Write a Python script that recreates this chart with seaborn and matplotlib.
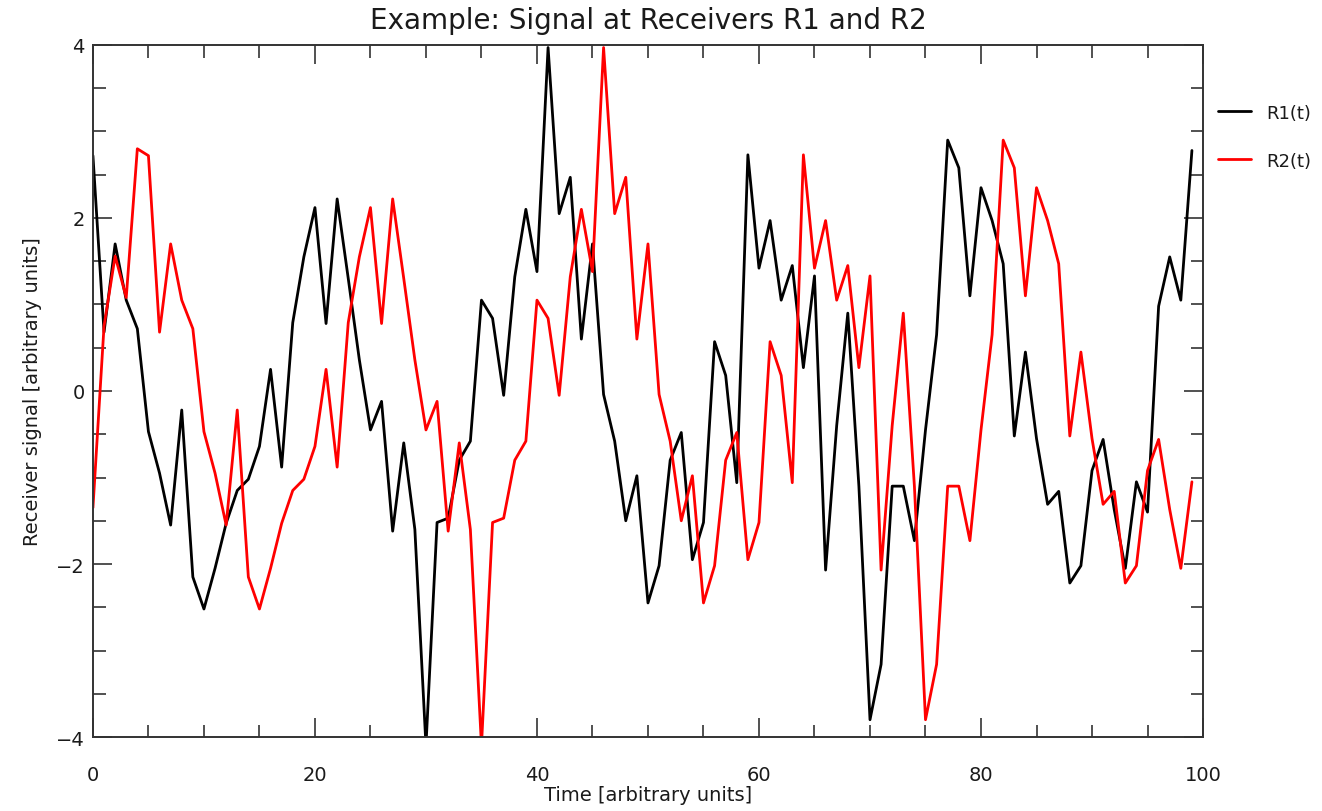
import numpy as np
import pandas as pd
import matplotlib
matplotlib.use("Agg")
import matplotlib.pyplot as plt
import seaborn as sns
from matplotlib.ticker import MultipleLocator

# Sample index (time steps)
time = list(range(100))

# Signal recorded at receiver R1
r1 = [2.72, 0.68, 1.70, 1.05, 0.72, -0.47, -0.95, -1.55, -0.22, -2.15,
      -2.52, -2.05, -1.53, -1.15, -1.02, -0.64, 0.25, -0.88, 0.79, 1.55,
      2.12, 0.78, 2.22, 1.30, 0.36, -0.45, -0.12, -1.62, -0.60, -1.60,
      -4.10, -1.52, -1.47, -0.80, -0.58, 1.05, 0.84, -0.05, 1.32, 2.10,
      1.38, 3.97, 2.05, 2.47, 0.60, 1.70, -0.04, -0.58, -1.50, -0.98,
      -2.45, -2.02, -0.80, -0.48, -1.95, -1.52, 0.57, 0.18, -1.06, 2.73,
      1.42, 1.97, 1.05, 1.45, 0.27, 1.33, -2.07, -0.40, 0.90, -1.10,
      -3.80, -3.16, -1.10, -1.10, -1.73, -0.45, 0.65, 2.90, 2.58, 1.10,
      2.35, 1.97, 1.47, -0.52, 0.45, -0.55, -1.31, -1.16, -2.22, -2.02,
      -0.92, -0.56, -1.37, -2.05, -1.05, -1.40, 0.98, 1.55, 1.05, 2.78]

# Signal recorded at receiver R2
r2 = [-1.35, 0.75, 1.56, 1.08, 2.80, 2.72, 0.68, 1.70, 1.05, 0.72,
      -0.47, -0.95, -1.55, -0.22, -2.15, -2.52, -2.05, -1.53, -1.15, -1.02,
      -0.64, 0.25, -0.88, 0.79, 1.55, 2.12, 0.78, 2.22, 1.30, 0.36,
      -0.45, -0.12, -1.62, -0.60, -1.60, -4.10, -1.52, -1.47, -0.80, -0.58,
      1.05, 0.84, -0.05, 1.32, 2.10, 1.38, 3.97, 2.05, 2.47, 0.60,
      1.70, -0.04, -0.58, -1.50, -0.98, -2.45, -2.02, -0.80, -0.48, -1.95,
      -1.52, 0.57, 0.18, -1.06, 2.73, 1.42, 1.97, 1.05, 1.45, 0.27,
      1.33, -2.07, -0.40, 0.90, -1.10, -3.80, -3.16, -1.10, -1.10, -1.73,
      -0.45, 0.65, 2.90, 2.58, 1.10, 2.35, 1.97, 1.47, -0.52, 0.45,
      -0.55, -1.31, -1.16, -2.22, -2.02, -0.92, -0.56, -1.37, -2.05, -1.05]

series_names = ["R1(t)", "R2(t)"]
series_colors = ["black", "red"]

df = pd.concat([
    pd.DataFrame({"time": time, "signal": r1, "receiver": series_names[0]}),
    pd.DataFrame({"time": time, "signal": r2, "receiver": series_names[1]}),
], ignore_index=True)

sns.set_style("white")
plt.rcParams["font.family"] = ["DejaVu Sans"]
text_color = "#1a1a1a"

fig = plt.figure(figsize=(13.22, 8.12), dpi=100)
ax = fig.add_axes([0.0703, 0.0911, 0.8397, 0.8523])

sns.lineplot(data=df, x="time", y="signal", hue="receiver",
             palette=dict(zip(series_names, series_colors)),
             linewidth=2.0, ax=ax, legend=True)

ax.set_xlim(0, 100)
ax.set_ylim(-4, 4)
ax.xaxis.set_major_locator(MultipleLocator(20))
ax.xaxis.set_minor_locator(MultipleLocator(5))
ax.yaxis.set_major_locator(MultipleLocator(2))
ax.yaxis.set_minor_locator(MultipleLocator(0.5))

ax.tick_params(which="both", direction="in", top=True, right=True,
               bottom=True, left=True, color="#333333", width=1.2,
               labelsize=14, labelcolor=text_color)
ax.tick_params(axis="x", which="both", pad=20)
ax.tick_params(axis="y", which="both", pad=6)
ax.tick_params(which="major", length=14)
ax.tick_params(which="minor", length=9)

for sp in ax.spines.values():
    sp.set_color("#333333")
    sp.set_linewidth(1.4)

ax.set_title("Example: Signal at Receivers R1 and R2", fontsize=20,
             color=text_color, pad=12)
ax.set_xlabel("Time [arbitrary units]", fontsize=14, color=text_color,
              labelpad=1)
ax.set_ylabel("Receiver signal [arbitrary units]", fontsize=14,
              color=text_color, labelpad=10)

leg = ax.legend(loc="upper left", bbox_to_anchor=(1.0135, 0.915),
                frameon=False, fontsize=13, handlelength=1.8,
                handletextpad=0.85, labelspacing=1.65,
                borderpad=0, borderaxespad=0)
for txt in leg.get_texts():
    txt.set_color(text_color)

fig.savefig("out.png", dpi=100)
